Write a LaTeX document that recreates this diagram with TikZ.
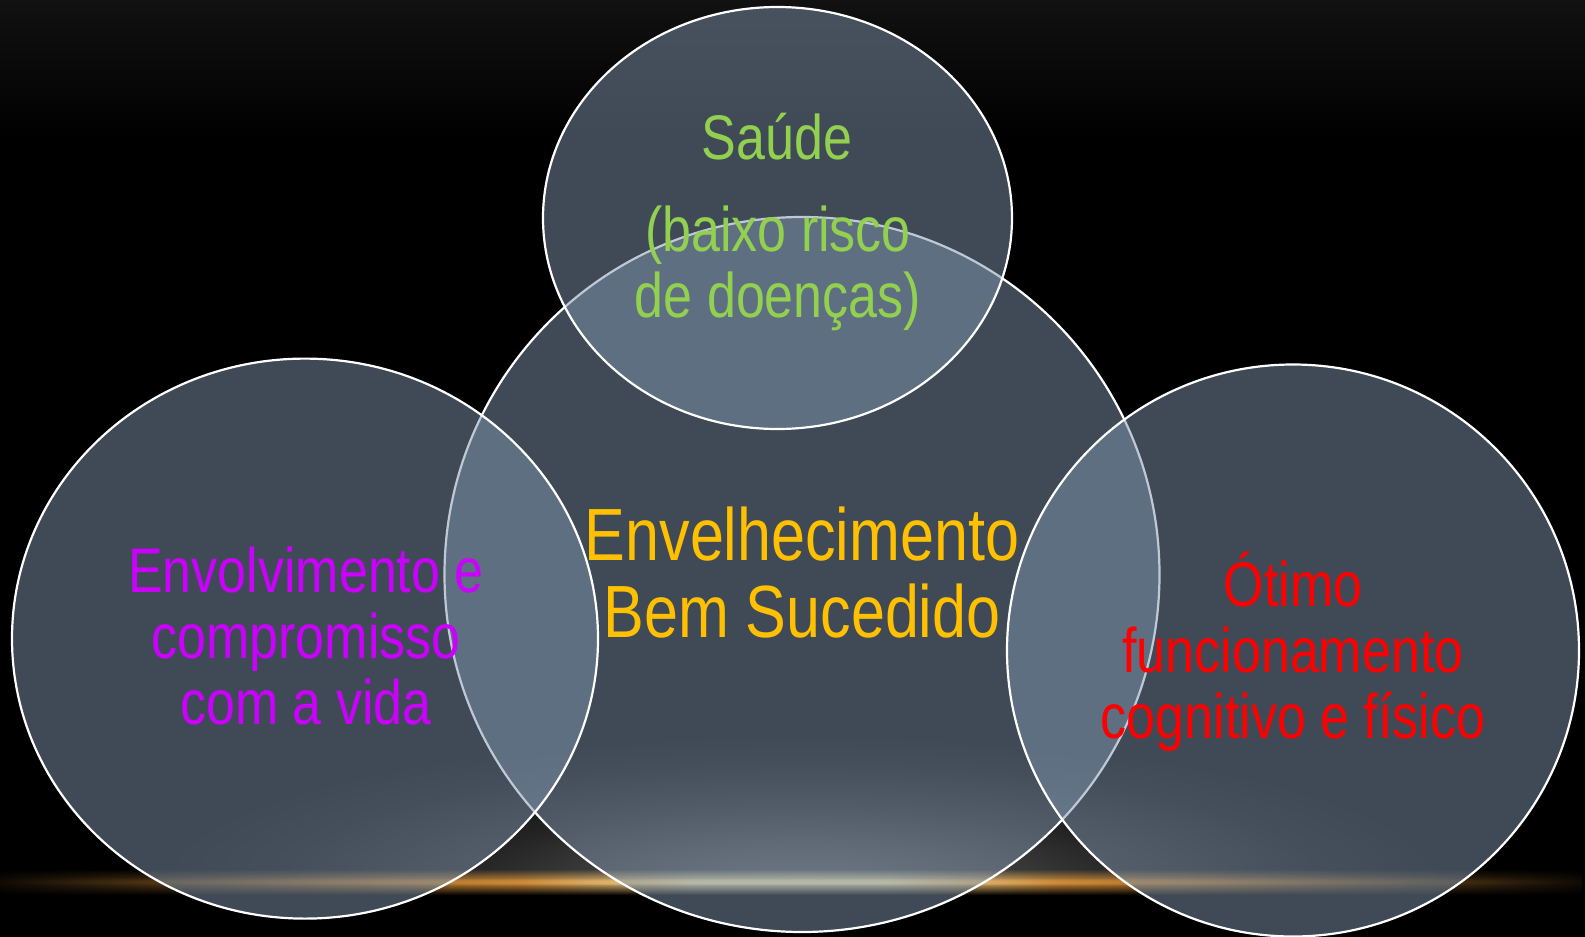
\documentclass[tikz,border=0pt]{standalone}
\usepackage{fontspec}
\usetikzlibrary{fadings}
\newfontfamily\slidefont[FakeStretch=0.825]{Liberation Sans}
\definecolor{ellfill}{RGB}{126,148,172}
\definecolor{saudecol}{RGB}{146,208,80}
\definecolor{envolvcol}{RGB}{204,0,255}
\definecolor{otimocol}{RGB}{255,0,0}
\definecolor{envelcol}{RGB}{255,192,0}
\definecolor{topgray}{RGB}{17,17,17}
\definecolor{glowgray}{RGB}{92,92,92}
\definecolor{glowcream}{RGB}{240,222,160}
\definecolor{gloworange}{RGB}{205,138,55}
\pgfdeclarehorizontalshading{glowline}{100bp}{color(0bp)=(black!92!gloworange); color(25bp)=(black!92!gloworange); color(31bp)=(black!55!gloworange); color(37.5bp)=(gloworange!85!black); color(41.5bp)=(gloworange); color(47bp)=(glowcream); color(53bp)=(glowcream); color(58.5bp)=(gloworange); color(62.5bp)=(gloworange!85!black); color(69bp)=(black!55!gloworange); color(75bp)=(black!92!gloworange); color(100bp)=(black!92!gloworange)}
\pgfdeclareradialshading{floorglow}{\pgfpointorigin}{color(0bp)=(glowgray); color(6bp)=(glowgray!75!black); color(13bp)=(glowgray!40!black); color(20bp)=(glowgray!12!black); color(25bp)=(black); color(50bp)=(black)}
\tikzfading[name=midband, top color=transparent!100, bottom color=transparent!100, middle color=transparent!0]
\tikzset{
  venn/.style={draw=white, line width=2.2pt, fill=ellfill, fill opacity=0.5},
  lbl/.style={font=\slidefont\fontsize{63}{66}\selectfont, align=center, inner sep=0pt, anchor=base},
  biglbl/.style={font=\slidefont\fontsize{74}{77}\selectfont, align=center, inner sep=0pt, anchor=base}
}
\begin{document}
\begin{tikzpicture}[x=1pt,y=-1pt]
\useasboundingbox (0,0) rectangle (1585,937);
\fill[black] (0,0) rectangle (1585,937);
\shade[top color=topgray, bottom color=black] (0,0) rectangle (1585,140);
% floor glow
\begin{scope}
  \clip (0,0) rectangle (1585,884);
  \shade[shading=floorglow] (802,884) ellipse [x radius=650, y radius=150];
\end{scope}
\shade[shading=glowline, path fading=midband] (0,869) rectangle (1585,895);
\shade[shading=glowline, path fading=midband] (0,878) rectangle (1585,885);
% ellipses
\path[venn] (802,574.5) ellipse [x radius=357.5, y radius=357.5];
\path[venn] (305,638.6) ellipse [x radius=293, y radius=280];
\path[venn] (1293,650.5) ellipse [x radius=286, y radius=286];
\path[venn] (777.5,218) ellipse [x radius=234.5, y radius=211];
% labels
\node[lbl, text=saudecol] (saude) at (777,159) {Saúde};
\node[lbl, text=saudecol] (risco) at (778,317) {(baixo risco\\de doenças)};
\node[biglbl, text=envelcol] (envel) at (802,637) {Envelhecimento\\Bem Sucedido};
\node[lbl, text=envolvcol] (envolv) at (306,724) {Envolvimento e\\compromisso\\com a vida};
\node[lbl, text=otimocol] (otimo) at (1293,738) {Ótimo\\funcionamento\\cognitivo e físico};
\end{tikzpicture}
\end{document}
